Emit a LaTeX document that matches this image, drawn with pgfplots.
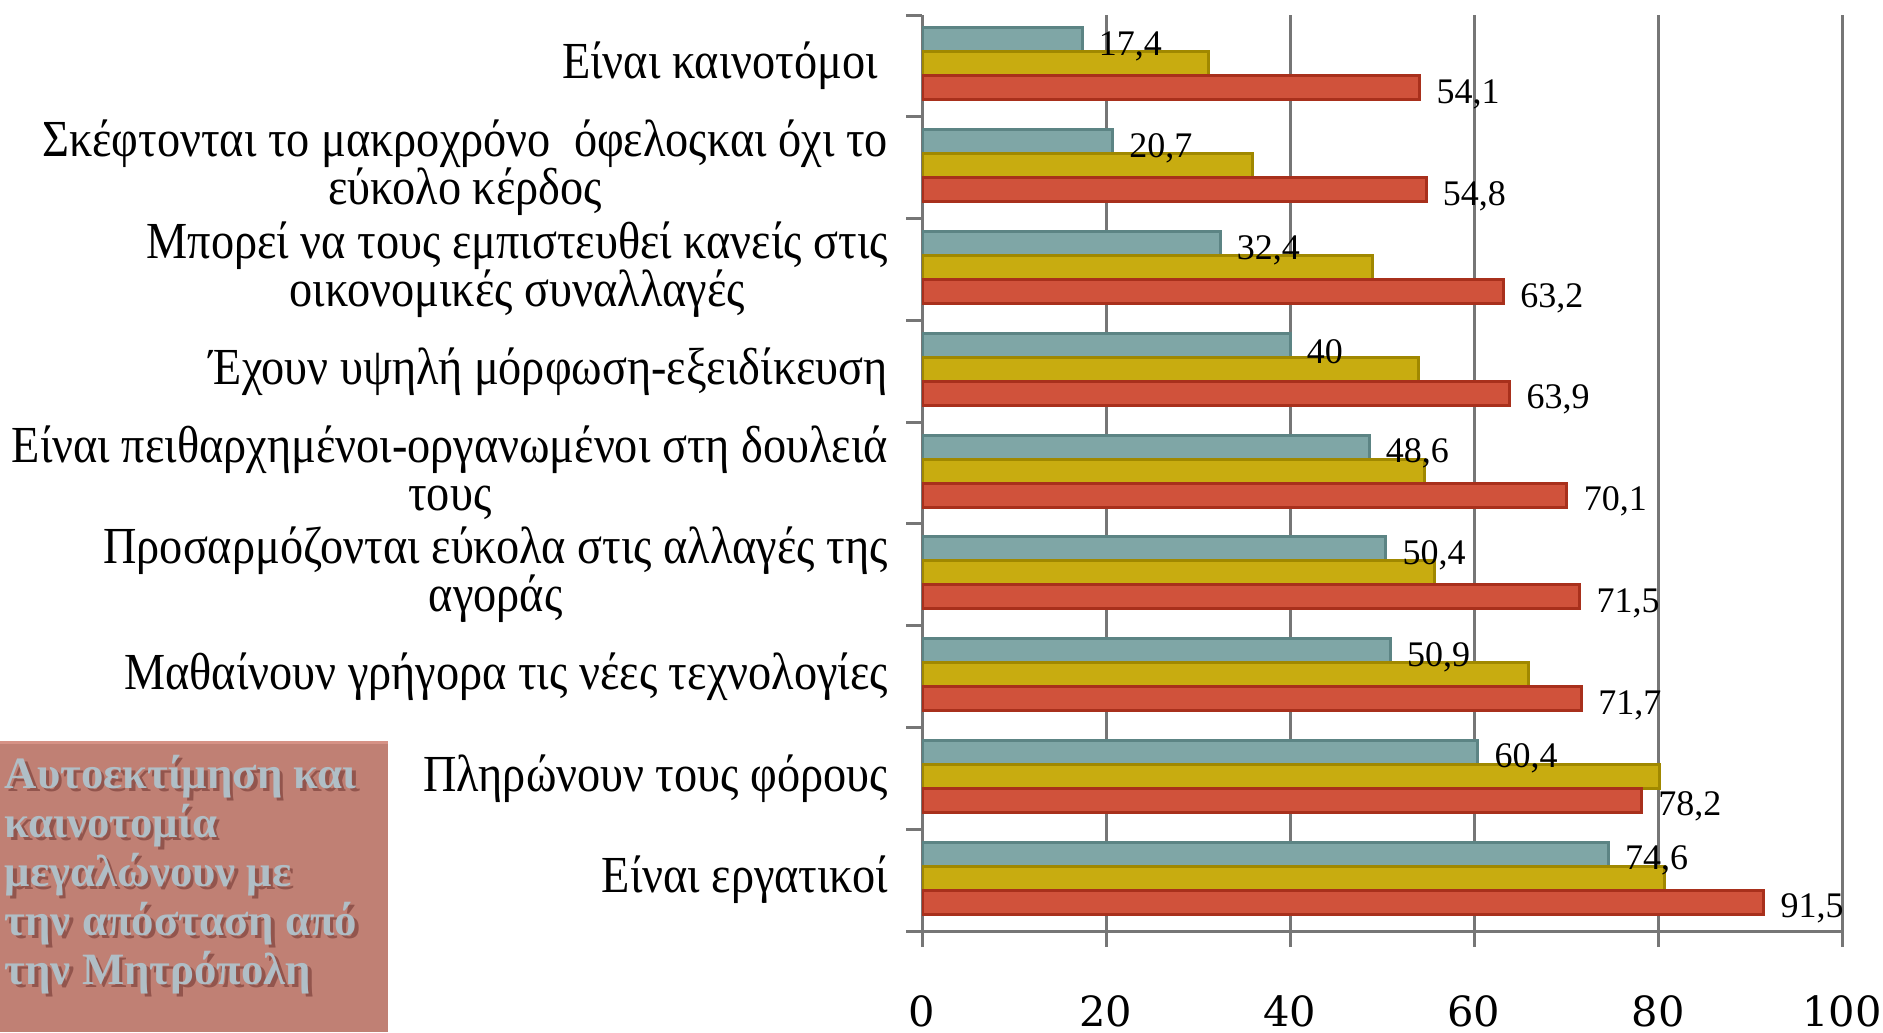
\documentclass[border=0pt]{standalone}
\usepackage{fontspec}
\setmainfont{Liberation Serif}
\newfontfamily\tickfont{DejaVu Serif}
\newfontfamily\catfont[FakeStretch=0.89]{Liberation Serif}
\newfontfamily\boxfont{Liberation Serif}
\usepackage{pgfplots}
\pgfplotsset{compat=1.18}
\definecolor{tealbar}{RGB}{127,166,166}
\definecolor{tealedge}{RGB}{92,132,132}
\definecolor{yelbar}{RGB}{200,172,16}
\definecolor{yeledge}{RGB}{160,136,0}
\definecolor{redbar}{RGB}{208,82,59}
\definecolor{rededge}{RGB}{168,48,28}
\definecolor{gridgray}{RGB}{118,118,118}
\definecolor{boxfill}{RGB}{192,128,116}
\definecolor{boxtop}{RGB}{214,146,134}
\definecolor{boxtext}{RGB}{176,190,198}
\definecolor{boxshadow}{RGB}{110,50,45}

\begin{document}
\begin{tikzpicture}
\begin{axis}[
  at={(230.5pt,25.25pt)}, anchor=south west,
  scale only axis, width=230pt, height=229pt,
  xbar, bar width=6pt,
  xmin=0, xmax=100,
  ymin=0.5, ymax=9.5, y dir=reverse,
  axis x line*=bottom, axis y line*=left,
  axis line style={gridgray, line width=0.75pt},
  xtick={0,20,...,100},
  ytick={0.5,1.5,...,9.5}, yticklabels={},
  extra y ticks={1,...,9},
  extra y tick labels={
    {Είναι καινοτόμοι\hspace*{2.5pt}},
    {Σκέφτονται το μακροχρόνο \ όφελοςκαι όχι το\\εύκολο κέρδος},
    {Μπορεί να τους εμπιστευθεί κανείς στις\\οικονομικές συναλλαγές},
    {Έχουν υψηλή μόρφωση-εξειδίκευση},
    {Είναι πειθαρχημένοι-οργανωμένοι στη δουλειά\\τους},
    {Προσαρμόζονται εύκολα στις αλλαγές της\\αγοράς},
    {Μαθαίνουν γρήγορα τις νέες τεχνολογίες},
    {Πληρώνουν τους φόρους},
    {Είναι εργατικοί}},
  extra y tick style={major tick length=0pt,
    yticklabel style={align=center, anchor=east, xshift=-5pt,
      font=\catfont\fontsize{13}{12}\selectfont}},
  xmajorgrids, grid style={gridgray, line width=0.75pt},
  tick align=outside, major tick length=4pt,
  tick style={gridgray, line width=0.75pt},
  xticklabel style={font=\tickfont\fontsize{10.4}{12}\selectfont, yshift=-8.5pt},
  /pgf/number format/assume math mode=true,
  point meta=x,
  nodes near coords style={font=\fontsize{9}{10}\selectfont, anchor=west, xshift=0.5pt, yshift=-1.6pt},
]
\addplot[fill=tealbar, draw=tealedge, line width=0.75pt, bar shift=6.5pt,
  nodes near coords={\pgfmathprintnumber[use comma,fixed,precision=1]{\pgfplotspointmeta}}]
  coordinates {(17.4,1) (20.7,2) (32.4,3) (40,4) (48.6,5) (50.4,6) (50.9,7) (60.4,8) (74.6,9)};
\addplot[fill=yelbar, draw=yeledge, line width=0.75pt, bar shift=0.5pt]
  coordinates {(31.1,1) (35.9,2) (49.0,3) (54.0,4) (54.6,5) (55.7,6) (65.9,7) (80.2,8) (80.7,9)};
\addplot[fill=redbar, draw=rededge, line width=0.75pt, bar shift=-5.5pt,
  nodes near coords={\pgfmathprintnumber[use comma,fixed,precision=1]{\pgfplotspointmeta}}]
  coordinates {(54.1,1) (54.8,2) (63.2,3) (63.9,4) (70.1,5) (71.5,6) (71.7,7) (78.2,8) (91.5,9)};
\end{axis}
% annotation box, lower left
\fill[boxfill] (0,0) rectangle (97pt,72.75pt);
\fill[boxtop] (0,72pt) rectangle (97pt,72.75pt);
\foreach \ln/\yy in {Αυτοεκτίμηση και/61, καινοτομία/48.75, μεγαλώνουν με/36.5,
  την απόσταση από/24.25, την Μητρόπολη/12} {
  \node[anchor=base west, inner sep=0pt, text=boxshadow, opacity=0.55,
    font=\boxfont\bfseries\fontsize{11.2}{12}\selectfont] at (1.9pt,\yy pt-0.9pt) {\ln};
  \node[anchor=base west, inner sep=0pt, text=boxtext,
    font=\boxfont\bfseries\fontsize{11.2}{12}\selectfont] at (1pt,\yy pt) {\ln};
}
\pgfresetboundingbox
\useasboundingbox (0,0) rectangle (470.75pt,258pt);
\end{tikzpicture}
\end{document}
